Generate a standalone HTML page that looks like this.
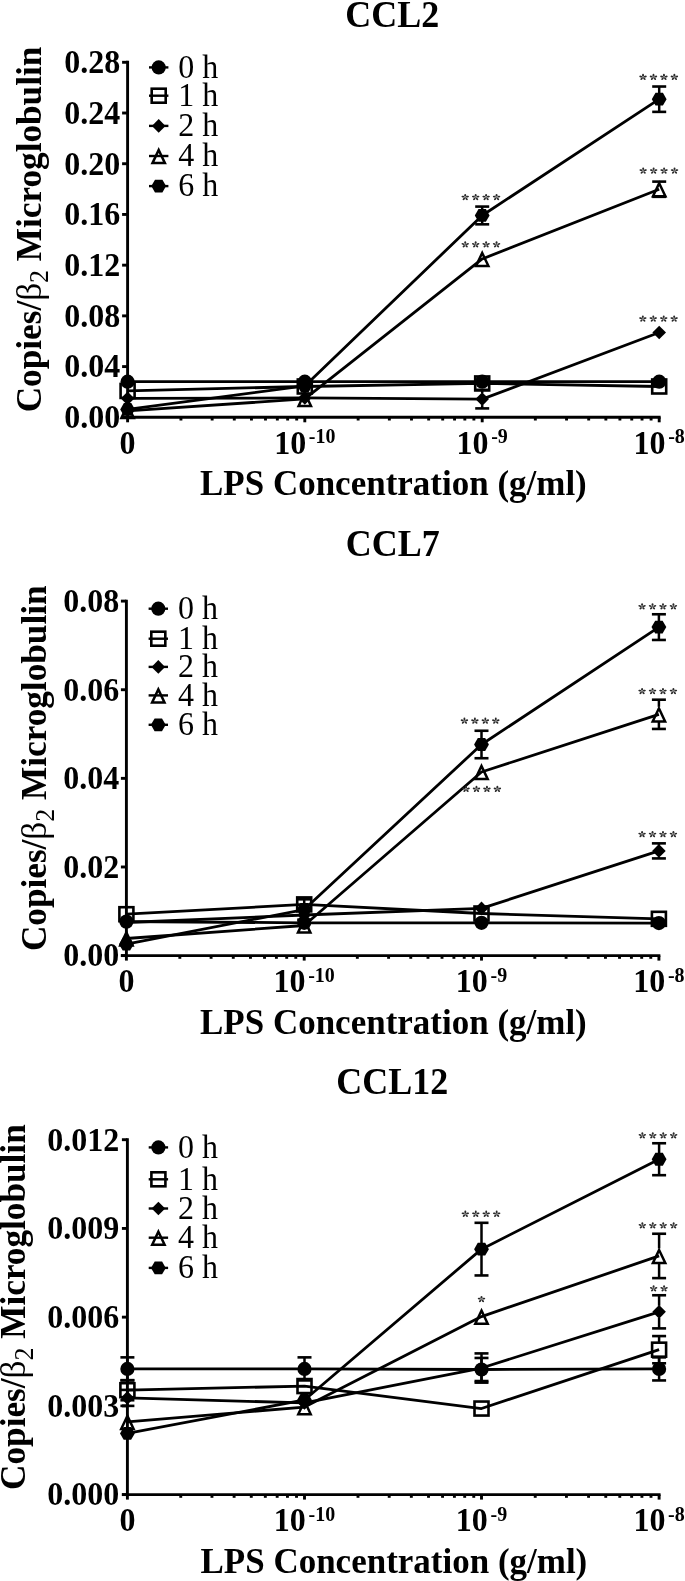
<!DOCTYPE html>
<html><head><meta charset="utf-8"><title>CCL chemokine expression</title>
<style>html,body{margin:0;padding:0;background:#fff;}svg{display:block;filter:grayscale(1);}</style></head>
<body>
<svg width="685" height="1581" viewBox="0 0 685 1581">
<rect width="685" height="1581" fill="#fff"/>
<g>
<text transform="translate(392.30,26.70) scale(1,1.045)" font-family="'Liberation Serif', serif" font-weight="bold" font-size="36" text-anchor="middle">CCL2</text>
<text transform="translate(40.70,412.30) rotate(-90) scale(1,1.02)" font-family="'Liberation Serif', serif" font-weight="bold" font-size="35.2">Copies/<tspan font-weight="normal">β</tspan><tspan font-weight="normal" font-size="26" dy="7.4">2</tspan><tspan dy="-7.4"> Microglobulin</tspan></text>
<line x1="127.6" y1="60.85" x2="127.6" y2="418.75" stroke="#000" stroke-width="2.9"/>
<line x1="122.10" y1="417.3" x2="660.65" y2="417.3" stroke="#000" stroke-width="2.9"/>
<line x1="122.10" y1="62.30" x2="127.6" y2="62.30" stroke="#000" stroke-width="2.9"/>
<text transform="translate(120.20,73.10) scale(1,1.045)" font-family="'Liberation Serif', serif" font-weight="bold" font-size="32" text-anchor="end">0.28</text>
<line x1="122.10" y1="113.01" x2="127.6" y2="113.01" stroke="#000" stroke-width="2.9"/>
<text transform="translate(120.20,123.81) scale(1,1.045)" font-family="'Liberation Serif', serif" font-weight="bold" font-size="32" text-anchor="end">0.24</text>
<line x1="122.10" y1="163.73" x2="127.6" y2="163.73" stroke="#000" stroke-width="2.9"/>
<text transform="translate(120.20,174.53) scale(1,1.045)" font-family="'Liberation Serif', serif" font-weight="bold" font-size="32" text-anchor="end">0.20</text>
<line x1="122.10" y1="214.44" x2="127.6" y2="214.44" stroke="#000" stroke-width="2.9"/>
<text transform="translate(120.20,225.24) scale(1,1.045)" font-family="'Liberation Serif', serif" font-weight="bold" font-size="32" text-anchor="end">0.16</text>
<line x1="122.10" y1="265.16" x2="127.6" y2="265.16" stroke="#000" stroke-width="2.9"/>
<text transform="translate(120.20,275.96) scale(1,1.045)" font-family="'Liberation Serif', serif" font-weight="bold" font-size="32" text-anchor="end">0.12</text>
<line x1="122.10" y1="315.87" x2="127.6" y2="315.87" stroke="#000" stroke-width="2.9"/>
<text transform="translate(120.20,326.67) scale(1,1.045)" font-family="'Liberation Serif', serif" font-weight="bold" font-size="32" text-anchor="end">0.08</text>
<line x1="122.10" y1="366.59" x2="127.6" y2="366.59" stroke="#000" stroke-width="2.9"/>
<text transform="translate(120.20,377.39) scale(1,1.045)" font-family="'Liberation Serif', serif" font-weight="bold" font-size="32" text-anchor="end">0.04</text>
<line x1="122.10" y1="417.30" x2="127.6" y2="417.30" stroke="#000" stroke-width="2.9"/>
<text transform="translate(120.20,428.10) scale(1,1.045)" font-family="'Liberation Serif', serif" font-weight="bold" font-size="32" text-anchor="end">0.00</text>
<line x1="180.94" y1="417.3" x2="180.94" y2="420.50" stroke="#000" stroke-width="2.9"/>
<line x1="212.15" y1="417.3" x2="212.15" y2="420.50" stroke="#000" stroke-width="2.9"/>
<line x1="234.29" y1="417.3" x2="234.29" y2="420.50" stroke="#000" stroke-width="2.9"/>
<line x1="251.46" y1="417.3" x2="251.46" y2="420.50" stroke="#000" stroke-width="2.9"/>
<line x1="265.49" y1="417.3" x2="265.49" y2="420.50" stroke="#000" stroke-width="2.9"/>
<line x1="277.35" y1="417.3" x2="277.35" y2="420.50" stroke="#000" stroke-width="2.9"/>
<line x1="287.63" y1="417.3" x2="287.63" y2="420.50" stroke="#000" stroke-width="2.9"/>
<line x1="296.69" y1="417.3" x2="296.69" y2="420.50" stroke="#000" stroke-width="2.9"/>
<line x1="358.14" y1="417.3" x2="358.14" y2="420.50" stroke="#000" stroke-width="2.9"/>
<line x1="389.35" y1="417.3" x2="389.35" y2="420.50" stroke="#000" stroke-width="2.9"/>
<line x1="411.49" y1="417.3" x2="411.49" y2="420.50" stroke="#000" stroke-width="2.9"/>
<line x1="428.66" y1="417.3" x2="428.66" y2="420.50" stroke="#000" stroke-width="2.9"/>
<line x1="442.69" y1="417.3" x2="442.69" y2="420.50" stroke="#000" stroke-width="2.9"/>
<line x1="454.55" y1="417.3" x2="454.55" y2="420.50" stroke="#000" stroke-width="2.9"/>
<line x1="464.83" y1="417.3" x2="464.83" y2="420.50" stroke="#000" stroke-width="2.9"/>
<line x1="473.89" y1="417.3" x2="473.89" y2="420.50" stroke="#000" stroke-width="2.9"/>
<line x1="535.34" y1="417.3" x2="535.34" y2="420.50" stroke="#000" stroke-width="2.9"/>
<line x1="566.55" y1="417.3" x2="566.55" y2="420.50" stroke="#000" stroke-width="2.9"/>
<line x1="588.69" y1="417.3" x2="588.69" y2="420.50" stroke="#000" stroke-width="2.9"/>
<line x1="605.86" y1="417.3" x2="605.86" y2="420.50" stroke="#000" stroke-width="2.9"/>
<line x1="619.89" y1="417.3" x2="619.89" y2="420.50" stroke="#000" stroke-width="2.9"/>
<line x1="631.75" y1="417.3" x2="631.75" y2="420.50" stroke="#000" stroke-width="2.9"/>
<line x1="642.03" y1="417.3" x2="642.03" y2="420.50" stroke="#000" stroke-width="2.9"/>
<line x1="651.09" y1="417.3" x2="651.09" y2="420.50" stroke="#000" stroke-width="2.9"/>
<line x1="127.60" y1="417.3" x2="127.60" y2="422.30" stroke="#000" stroke-width="2.9"/>
<line x1="304.80" y1="417.3" x2="304.80" y2="422.30" stroke="#000" stroke-width="2.9"/>
<line x1="482.20" y1="417.3" x2="482.20" y2="422.30" stroke="#000" stroke-width="2.9"/>
<line x1="659.20" y1="417.3" x2="659.20" y2="422.30" stroke="#000" stroke-width="2.9"/>
<text transform="translate(127.60,453.90) scale(1,1.045)" font-family="'Liberation Serif', serif" font-weight="bold" font-size="32" text-anchor="middle">0</text>
<text transform="translate(304.80,453.90) scale(1,1.045)" font-family="'Liberation Serif', serif" font-weight="bold" font-size="32" text-anchor="middle">10<tspan dx="2.7" dy="-10.1" font-size="20">-10</tspan></text>
<text transform="translate(482.20,453.90) scale(1,1.045)" font-family="'Liberation Serif', serif" font-weight="bold" font-size="32" text-anchor="middle">10<tspan dx="2.7" dy="-10.1" font-size="20">-9</tspan></text>
<text transform="translate(659.20,453.90) scale(1,1.045)" font-family="'Liberation Serif', serif" font-weight="bold" font-size="32" text-anchor="middle">10<tspan dx="2.7" dy="-10.1" font-size="20">-8</tspan></text>
<text transform="translate(200.00,495.30) scale(1,1.045)" font-family="'Liberation Serif', serif" font-weight="bold" font-size="35">LPS Concentration (g/ml)</text>
<line x1="149.00" y1="67.40" x2="168.40" y2="67.40" stroke="#000" stroke-width="2.4"/>
<circle cx="158.70" cy="67.40" r="7.1" fill="#000"/>
<text transform="translate(178.30,77.70) scale(1,1.045)" font-family="'Liberation Serif', serif" font-size="32">0 h</text>
<line x1="149.00" y1="95.70" x2="168.40" y2="95.70" stroke="#000" stroke-width="2.4"/>
<rect x="151.70" y="88.70" width="14.00" height="14.00" fill="none" stroke="#000" stroke-width="2.6"/>
<text transform="translate(178.30,106.00) scale(1,1.045)" font-family="'Liberation Serif', serif" font-size="32">1 h</text>
<line x1="149.00" y1="125.90" x2="168.40" y2="125.90" stroke="#000" stroke-width="2.4"/>
<path d="M158.70,119.10 L165.50,125.90 L158.70,132.70 L151.90,125.90 Z" fill="#000"/>
<text transform="translate(178.30,136.20) scale(1,1.045)" font-family="'Liberation Serif', serif" font-size="32">2 h</text>
<line x1="149.00" y1="156.00" x2="168.40" y2="156.00" stroke="#000" stroke-width="2.4"/>
<path d="M158.70,150.00 L164.90,163.10 L152.50,163.10 Z" fill="none" stroke="#000" stroke-width="2.5" stroke-linejoin="miter" stroke-miterlimit="10"/>
<text transform="translate(178.30,166.30) scale(1,1.045)" font-family="'Liberation Serif', serif" font-size="32">4 h</text>
<line x1="149.00" y1="186.10" x2="168.40" y2="186.10" stroke="#000" stroke-width="2.4"/>
<path d="M151.30,186.10 L155.00,179.69 L162.40,179.69 L166.10,186.10 L162.40,192.51 L155.00,192.51 Z" fill="#000"/>
<text transform="translate(178.30,196.40) scale(1,1.045)" font-family="'Liberation Serif', serif" font-size="32">6 h</text>
<polyline points="127.60,381.67 304.80,381.67 482.20,381.67 659.20,381.67" fill="none" stroke="#000" stroke-width="2.8" stroke-linejoin="round"/>
<polyline points="127.60,390.93 304.80,386.49 482.20,383.45 659.20,386.49" fill="none" stroke="#000" stroke-width="2.8" stroke-linejoin="round"/>
<polyline points="127.60,398.41 304.80,397.90 482.20,399.11 659.20,332.48" fill="none" stroke="#000" stroke-width="2.8" stroke-linejoin="round"/>
<polyline points="127.60,410.96 304.80,398.92 482.20,258.94 659.20,189.21" fill="none" stroke="#000" stroke-width="2.8" stroke-linejoin="round"/>
<polyline points="127.60,409.44 304.80,385.98 482.20,215.46 659.20,99.19" fill="none" stroke="#000" stroke-width="2.8" stroke-linejoin="round"/>
<line x1="482.20" y1="389.81" x2="482.20" y2="393.11" stroke="#000" stroke-width="2.5"/>
<line x1="482.20" y1="405.11" x2="482.20" y2="408.40" stroke="#000" stroke-width="2.5"/>
<line x1="475.20" y1="389.81" x2="489.20" y2="389.81" stroke="#000" stroke-width="2.6"/>
<line x1="475.20" y1="408.40" x2="489.20" y2="408.40" stroke="#000" stroke-width="2.6"/>
<line x1="659.20" y1="181.61" x2="659.20" y2="181.71" stroke="#000" stroke-width="2.5"/>
<line x1="659.20" y1="196.31" x2="659.20" y2="196.82" stroke="#000" stroke-width="2.5"/>
<line x1="652.20" y1="181.61" x2="666.20" y2="181.61" stroke="#000" stroke-width="2.6"/>
<line x1="652.20" y1="196.82" x2="666.20" y2="196.82" stroke="#000" stroke-width="2.6"/>
<line x1="482.20" y1="206.58" x2="482.20" y2="209.96" stroke="#000" stroke-width="2.5"/>
<line x1="482.20" y1="220.96" x2="482.20" y2="224.33" stroke="#000" stroke-width="2.5"/>
<line x1="475.20" y1="206.58" x2="489.20" y2="206.58" stroke="#000" stroke-width="2.6"/>
<line x1="475.20" y1="224.33" x2="489.20" y2="224.33" stroke="#000" stroke-width="2.6"/>
<line x1="659.20" y1="86.52" x2="659.20" y2="93.69" stroke="#000" stroke-width="2.5"/>
<line x1="659.20" y1="104.69" x2="659.20" y2="111.87" stroke="#000" stroke-width="2.5"/>
<line x1="652.20" y1="86.52" x2="666.20" y2="86.52" stroke="#000" stroke-width="2.6"/>
<line x1="652.20" y1="111.87" x2="666.20" y2="111.87" stroke="#000" stroke-width="2.6"/>
<path d="M120.20,409.44 L123.90,403.03 L131.30,403.03 L135.00,409.44 L131.30,415.85 L123.90,415.85 Z" fill="#000"/>
<path d="M297.40,385.98 L301.10,379.58 L308.50,379.58 L312.20,385.98 L308.50,392.39 L301.10,392.39 Z" fill="#000"/>
<path d="M474.80,215.46 L478.50,209.05 L485.90,209.05 L489.60,215.46 L485.90,221.87 L478.50,221.87 Z" fill="#000"/>
<path d="M651.80,99.19 L655.50,92.79 L662.90,92.79 L666.60,99.19 L662.90,105.60 L655.50,105.60 Z" fill="#000"/>
<path d="M127.60,404.96 L133.80,418.06 L121.40,418.06 Z" fill="none" stroke="#000" stroke-width="2.5" stroke-linejoin="miter" stroke-miterlimit="10"/>
<path d="M304.80,392.92 L311.00,406.02 L298.60,406.02 Z" fill="none" stroke="#000" stroke-width="2.5" stroke-linejoin="miter" stroke-miterlimit="10"/>
<path d="M482.20,252.94 L488.40,266.04 L476.00,266.04 Z" fill="none" stroke="#000" stroke-width="2.5" stroke-linejoin="miter" stroke-miterlimit="10"/>
<path d="M659.20,183.21 L665.40,196.31 L653.00,196.31 Z" fill="none" stroke="#000" stroke-width="2.5" stroke-linejoin="miter" stroke-miterlimit="10"/>
<path d="M127.60,391.61 L134.40,398.41 L127.60,405.21 L120.80,398.41 Z" fill="#000"/>
<path d="M304.80,391.10 L311.60,397.90 L304.80,404.70 L298.00,397.90 Z" fill="#000"/>
<path d="M482.20,392.31 L489.00,399.11 L482.20,405.91 L475.40,399.11 Z" fill="#000"/>
<path d="M659.20,325.68 L666.00,332.48 L659.20,339.28 L652.40,332.48 Z" fill="#000"/>
<rect x="120.60" y="383.93" width="14.00" height="14.00" fill="none" stroke="#000" stroke-width="2.6"/>
<rect x="297.80" y="379.49" width="14.00" height="14.00" fill="none" stroke="#000" stroke-width="2.6"/>
<rect x="475.20" y="376.45" width="14.00" height="14.00" fill="none" stroke="#000" stroke-width="2.6"/>
<rect x="652.20" y="379.49" width="14.00" height="14.00" fill="none" stroke="#000" stroke-width="2.6"/>
<circle cx="127.60" cy="381.67" r="7.1" fill="#000"/>
<circle cx="304.80" cy="381.67" r="7.1" fill="#000"/>
<circle cx="482.20" cy="381.67" r="7.1" fill="#000"/>
<circle cx="659.20" cy="381.67" r="7.1" fill="#000"/>
<g fill="#2a2a2a" transform="translate(465.22,197.30) scale(1.15,1) translate(-465.22,-197.30)"><ellipse cx="465.22" cy="195.25" rx="1.35" ry="0.85" transform="rotate(-90 465.22 195.25)"/><ellipse cx="467.17" cy="196.67" rx="1.35" ry="0.85" transform="rotate(-18 467.17 196.67)"/><ellipse cx="466.43" cy="198.96" rx="1.35" ry="0.85" transform="rotate(54 466.43 198.96)"/><ellipse cx="464.02" cy="198.96" rx="1.35" ry="0.85" transform="rotate(126 464.02 198.96)"/><ellipse cx="463.28" cy="196.67" rx="1.35" ry="0.85" transform="rotate(198 463.28 196.67)"/><circle cx="465.22" cy="197.30" r="0.9" fill="#666"/></g>
<g fill="#2a2a2a" transform="translate(475.67,197.30) scale(1.15,1) translate(-475.67,-197.30)"><ellipse cx="475.67" cy="195.25" rx="1.35" ry="0.85" transform="rotate(-90 475.67 195.25)"/><ellipse cx="477.62" cy="196.67" rx="1.35" ry="0.85" transform="rotate(-18 477.62 196.67)"/><ellipse cx="476.88" cy="198.96" rx="1.35" ry="0.85" transform="rotate(54 476.88 198.96)"/><ellipse cx="474.47" cy="198.96" rx="1.35" ry="0.85" transform="rotate(126 474.47 198.96)"/><ellipse cx="473.73" cy="196.67" rx="1.35" ry="0.85" transform="rotate(198 473.73 196.67)"/><circle cx="475.67" cy="197.30" r="0.9" fill="#666"/></g>
<g fill="#2a2a2a" transform="translate(486.12,197.30) scale(1.15,1) translate(-486.12,-197.30)"><ellipse cx="486.12" cy="195.25" rx="1.35" ry="0.85" transform="rotate(-90 486.12 195.25)"/><ellipse cx="488.07" cy="196.67" rx="1.35" ry="0.85" transform="rotate(-18 488.07 196.67)"/><ellipse cx="487.33" cy="198.96" rx="1.35" ry="0.85" transform="rotate(54 487.33 198.96)"/><ellipse cx="484.92" cy="198.96" rx="1.35" ry="0.85" transform="rotate(126 484.92 198.96)"/><ellipse cx="484.18" cy="196.67" rx="1.35" ry="0.85" transform="rotate(198 484.18 196.67)"/><circle cx="486.12" cy="197.30" r="0.9" fill="#666"/></g>
<g fill="#2a2a2a" transform="translate(496.57,197.30) scale(1.15,1) translate(-496.57,-197.30)"><ellipse cx="496.57" cy="195.25" rx="1.35" ry="0.85" transform="rotate(-90 496.57 195.25)"/><ellipse cx="498.52" cy="196.67" rx="1.35" ry="0.85" transform="rotate(-18 498.52 196.67)"/><ellipse cx="497.78" cy="198.96" rx="1.35" ry="0.85" transform="rotate(54 497.78 198.96)"/><ellipse cx="495.37" cy="198.96" rx="1.35" ry="0.85" transform="rotate(126 495.37 198.96)"/><ellipse cx="494.63" cy="196.67" rx="1.35" ry="0.85" transform="rotate(198 494.63 196.67)"/><circle cx="496.57" cy="197.30" r="0.9" fill="#666"/></g>
<g fill="#2a2a2a" transform="translate(643.03,77.20) scale(1.15,1) translate(-643.03,-77.20)"><ellipse cx="643.03" cy="75.15" rx="1.35" ry="0.85" transform="rotate(-90 643.03 75.15)"/><ellipse cx="644.97" cy="76.57" rx="1.35" ry="0.85" transform="rotate(-18 644.97 76.57)"/><ellipse cx="644.23" cy="78.86" rx="1.35" ry="0.85" transform="rotate(54 644.23 78.86)"/><ellipse cx="641.82" cy="78.86" rx="1.35" ry="0.85" transform="rotate(126 641.82 78.86)"/><ellipse cx="641.08" cy="76.57" rx="1.35" ry="0.85" transform="rotate(198 641.08 76.57)"/><circle cx="643.03" cy="77.20" r="0.9" fill="#666"/></g>
<g fill="#2a2a2a" transform="translate(653.48,77.20) scale(1.15,1) translate(-653.48,-77.20)"><ellipse cx="653.48" cy="75.15" rx="1.35" ry="0.85" transform="rotate(-90 653.48 75.15)"/><ellipse cx="655.42" cy="76.57" rx="1.35" ry="0.85" transform="rotate(-18 655.42 76.57)"/><ellipse cx="654.68" cy="78.86" rx="1.35" ry="0.85" transform="rotate(54 654.68 78.86)"/><ellipse cx="652.27" cy="78.86" rx="1.35" ry="0.85" transform="rotate(126 652.27 78.86)"/><ellipse cx="651.53" cy="76.57" rx="1.35" ry="0.85" transform="rotate(198 651.53 76.57)"/><circle cx="653.48" cy="77.20" r="0.9" fill="#666"/></g>
<g fill="#2a2a2a" transform="translate(663.93,77.20) scale(1.15,1) translate(-663.93,-77.20)"><ellipse cx="663.93" cy="75.15" rx="1.35" ry="0.85" transform="rotate(-90 663.93 75.15)"/><ellipse cx="665.87" cy="76.57" rx="1.35" ry="0.85" transform="rotate(-18 665.87 76.57)"/><ellipse cx="665.13" cy="78.86" rx="1.35" ry="0.85" transform="rotate(54 665.13 78.86)"/><ellipse cx="662.72" cy="78.86" rx="1.35" ry="0.85" transform="rotate(126 662.72 78.86)"/><ellipse cx="661.98" cy="76.57" rx="1.35" ry="0.85" transform="rotate(198 661.98 76.57)"/><circle cx="663.93" cy="77.20" r="0.9" fill="#666"/></g>
<g fill="#2a2a2a" transform="translate(674.38,77.20) scale(1.15,1) translate(-674.38,-77.20)"><ellipse cx="674.38" cy="75.15" rx="1.35" ry="0.85" transform="rotate(-90 674.38 75.15)"/><ellipse cx="676.32" cy="76.57" rx="1.35" ry="0.85" transform="rotate(-18 676.32 76.57)"/><ellipse cx="675.58" cy="78.86" rx="1.35" ry="0.85" transform="rotate(54 675.58 78.86)"/><ellipse cx="673.17" cy="78.86" rx="1.35" ry="0.85" transform="rotate(126 673.17 78.86)"/><ellipse cx="672.43" cy="76.57" rx="1.35" ry="0.85" transform="rotate(198 672.43 76.57)"/><circle cx="674.38" cy="77.20" r="0.9" fill="#666"/></g>
<g fill="#2a2a2a" transform="translate(465.22,244.60) scale(1.15,1) translate(-465.22,-244.60)"><ellipse cx="465.22" cy="242.55" rx="1.35" ry="0.85" transform="rotate(-90 465.22 242.55)"/><ellipse cx="467.17" cy="243.97" rx="1.35" ry="0.85" transform="rotate(-18 467.17 243.97)"/><ellipse cx="466.43" cy="246.26" rx="1.35" ry="0.85" transform="rotate(54 466.43 246.26)"/><ellipse cx="464.02" cy="246.26" rx="1.35" ry="0.85" transform="rotate(126 464.02 246.26)"/><ellipse cx="463.28" cy="243.97" rx="1.35" ry="0.85" transform="rotate(198 463.28 243.97)"/><circle cx="465.22" cy="244.60" r="0.9" fill="#666"/></g>
<g fill="#2a2a2a" transform="translate(475.67,244.60) scale(1.15,1) translate(-475.67,-244.60)"><ellipse cx="475.67" cy="242.55" rx="1.35" ry="0.85" transform="rotate(-90 475.67 242.55)"/><ellipse cx="477.62" cy="243.97" rx="1.35" ry="0.85" transform="rotate(-18 477.62 243.97)"/><ellipse cx="476.88" cy="246.26" rx="1.35" ry="0.85" transform="rotate(54 476.88 246.26)"/><ellipse cx="474.47" cy="246.26" rx="1.35" ry="0.85" transform="rotate(126 474.47 246.26)"/><ellipse cx="473.73" cy="243.97" rx="1.35" ry="0.85" transform="rotate(198 473.73 243.97)"/><circle cx="475.67" cy="244.60" r="0.9" fill="#666"/></g>
<g fill="#2a2a2a" transform="translate(486.12,244.60) scale(1.15,1) translate(-486.12,-244.60)"><ellipse cx="486.12" cy="242.55" rx="1.35" ry="0.85" transform="rotate(-90 486.12 242.55)"/><ellipse cx="488.07" cy="243.97" rx="1.35" ry="0.85" transform="rotate(-18 488.07 243.97)"/><ellipse cx="487.33" cy="246.26" rx="1.35" ry="0.85" transform="rotate(54 487.33 246.26)"/><ellipse cx="484.92" cy="246.26" rx="1.35" ry="0.85" transform="rotate(126 484.92 246.26)"/><ellipse cx="484.18" cy="243.97" rx="1.35" ry="0.85" transform="rotate(198 484.18 243.97)"/><circle cx="486.12" cy="244.60" r="0.9" fill="#666"/></g>
<g fill="#2a2a2a" transform="translate(496.57,244.60) scale(1.15,1) translate(-496.57,-244.60)"><ellipse cx="496.57" cy="242.55" rx="1.35" ry="0.85" transform="rotate(-90 496.57 242.55)"/><ellipse cx="498.52" cy="243.97" rx="1.35" ry="0.85" transform="rotate(-18 498.52 243.97)"/><ellipse cx="497.78" cy="246.26" rx="1.35" ry="0.85" transform="rotate(54 497.78 246.26)"/><ellipse cx="495.37" cy="246.26" rx="1.35" ry="0.85" transform="rotate(126 495.37 246.26)"/><ellipse cx="494.63" cy="243.97" rx="1.35" ry="0.85" transform="rotate(198 494.63 243.97)"/><circle cx="496.57" cy="244.60" r="0.9" fill="#666"/></g>
<g fill="#2a2a2a" transform="translate(643.18,170.80) scale(1.15,1) translate(-643.18,-170.80)"><ellipse cx="643.18" cy="168.75" rx="1.35" ry="0.85" transform="rotate(-90 643.18 168.75)"/><ellipse cx="645.12" cy="170.17" rx="1.35" ry="0.85" transform="rotate(-18 645.12 170.17)"/><ellipse cx="644.38" cy="172.46" rx="1.35" ry="0.85" transform="rotate(54 644.38 172.46)"/><ellipse cx="641.97" cy="172.46" rx="1.35" ry="0.85" transform="rotate(126 641.97 172.46)"/><ellipse cx="641.23" cy="170.17" rx="1.35" ry="0.85" transform="rotate(198 641.23 170.17)"/><circle cx="643.18" cy="170.80" r="0.9" fill="#666"/></g>
<g fill="#2a2a2a" transform="translate(653.62,170.80) scale(1.15,1) translate(-653.62,-170.80)"><ellipse cx="653.62" cy="168.75" rx="1.35" ry="0.85" transform="rotate(-90 653.62 168.75)"/><ellipse cx="655.57" cy="170.17" rx="1.35" ry="0.85" transform="rotate(-18 655.57 170.17)"/><ellipse cx="654.83" cy="172.46" rx="1.35" ry="0.85" transform="rotate(54 654.83 172.46)"/><ellipse cx="652.42" cy="172.46" rx="1.35" ry="0.85" transform="rotate(126 652.42 172.46)"/><ellipse cx="651.68" cy="170.17" rx="1.35" ry="0.85" transform="rotate(198 651.68 170.17)"/><circle cx="653.62" cy="170.80" r="0.9" fill="#666"/></g>
<g fill="#2a2a2a" transform="translate(664.08,170.80) scale(1.15,1) translate(-664.08,-170.80)"><ellipse cx="664.08" cy="168.75" rx="1.35" ry="0.85" transform="rotate(-90 664.08 168.75)"/><ellipse cx="666.02" cy="170.17" rx="1.35" ry="0.85" transform="rotate(-18 666.02 170.17)"/><ellipse cx="665.28" cy="172.46" rx="1.35" ry="0.85" transform="rotate(54 665.28 172.46)"/><ellipse cx="662.87" cy="172.46" rx="1.35" ry="0.85" transform="rotate(126 662.87 172.46)"/><ellipse cx="662.13" cy="170.17" rx="1.35" ry="0.85" transform="rotate(198 662.13 170.17)"/><circle cx="664.08" cy="170.80" r="0.9" fill="#666"/></g>
<g fill="#2a2a2a" transform="translate(674.52,170.80) scale(1.15,1) translate(-674.52,-170.80)"><ellipse cx="674.52" cy="168.75" rx="1.35" ry="0.85" transform="rotate(-90 674.52 168.75)"/><ellipse cx="676.47" cy="170.17" rx="1.35" ry="0.85" transform="rotate(-18 676.47 170.17)"/><ellipse cx="675.73" cy="172.46" rx="1.35" ry="0.85" transform="rotate(54 675.73 172.46)"/><ellipse cx="673.32" cy="172.46" rx="1.35" ry="0.85" transform="rotate(126 673.32 172.46)"/><ellipse cx="672.58" cy="170.17" rx="1.35" ry="0.85" transform="rotate(198 672.58 170.17)"/><circle cx="674.52" cy="170.80" r="0.9" fill="#666"/></g>
<g fill="#2a2a2a" transform="translate(642.83,318.80) scale(1.15,1) translate(-642.83,-318.80)"><ellipse cx="642.83" cy="316.75" rx="1.35" ry="0.85" transform="rotate(-90 642.83 316.75)"/><ellipse cx="644.77" cy="318.17" rx="1.35" ry="0.85" transform="rotate(-18 644.77 318.17)"/><ellipse cx="644.03" cy="320.46" rx="1.35" ry="0.85" transform="rotate(54 644.03 320.46)"/><ellipse cx="641.62" cy="320.46" rx="1.35" ry="0.85" transform="rotate(126 641.62 320.46)"/><ellipse cx="640.88" cy="318.17" rx="1.35" ry="0.85" transform="rotate(198 640.88 318.17)"/><circle cx="642.83" cy="318.80" r="0.9" fill="#666"/></g>
<g fill="#2a2a2a" transform="translate(653.27,318.80) scale(1.15,1) translate(-653.27,-318.80)"><ellipse cx="653.27" cy="316.75" rx="1.35" ry="0.85" transform="rotate(-90 653.27 316.75)"/><ellipse cx="655.22" cy="318.17" rx="1.35" ry="0.85" transform="rotate(-18 655.22 318.17)"/><ellipse cx="654.48" cy="320.46" rx="1.35" ry="0.85" transform="rotate(54 654.48 320.46)"/><ellipse cx="652.07" cy="320.46" rx="1.35" ry="0.85" transform="rotate(126 652.07 320.46)"/><ellipse cx="651.33" cy="318.17" rx="1.35" ry="0.85" transform="rotate(198 651.33 318.17)"/><circle cx="653.27" cy="318.80" r="0.9" fill="#666"/></g>
<g fill="#2a2a2a" transform="translate(663.73,318.80) scale(1.15,1) translate(-663.73,-318.80)"><ellipse cx="663.73" cy="316.75" rx="1.35" ry="0.85" transform="rotate(-90 663.73 316.75)"/><ellipse cx="665.67" cy="318.17" rx="1.35" ry="0.85" transform="rotate(-18 665.67 318.17)"/><ellipse cx="664.93" cy="320.46" rx="1.35" ry="0.85" transform="rotate(54 664.93 320.46)"/><ellipse cx="662.52" cy="320.46" rx="1.35" ry="0.85" transform="rotate(126 662.52 320.46)"/><ellipse cx="661.78" cy="318.17" rx="1.35" ry="0.85" transform="rotate(198 661.78 318.17)"/><circle cx="663.73" cy="318.80" r="0.9" fill="#666"/></g>
<g fill="#2a2a2a" transform="translate(674.17,318.80) scale(1.15,1) translate(-674.17,-318.80)"><ellipse cx="674.17" cy="316.75" rx="1.35" ry="0.85" transform="rotate(-90 674.17 316.75)"/><ellipse cx="676.12" cy="318.17" rx="1.35" ry="0.85" transform="rotate(-18 676.12 318.17)"/><ellipse cx="675.38" cy="320.46" rx="1.35" ry="0.85" transform="rotate(54 675.38 320.46)"/><ellipse cx="672.97" cy="320.46" rx="1.35" ry="0.85" transform="rotate(126 672.97 320.46)"/><ellipse cx="672.23" cy="318.17" rx="1.35" ry="0.85" transform="rotate(198 672.23 318.17)"/><circle cx="674.17" cy="318.80" r="0.9" fill="#666"/></g>
<text transform="translate(392.80,556.00) scale(1,1.045)" font-family="'Liberation Serif', serif" font-weight="bold" font-size="36" text-anchor="middle">CCL7</text>
<text transform="translate(46.00,951.10) rotate(-90) scale(1,1.02)" font-family="'Liberation Serif', serif" font-weight="bold" font-size="35.2">Copies/<tspan font-weight="normal">β</tspan><tspan font-weight="normal" font-size="26" dy="7.4">2</tspan><tspan dy="-7.4"> Microglobulin</tspan></text>
<line x1="126.4" y1="599.65" x2="126.4" y2="957.05" stroke="#000" stroke-width="2.9"/>
<line x1="120.90" y1="955.6" x2="660.35" y2="955.6" stroke="#000" stroke-width="2.9"/>
<line x1="120.90" y1="601.10" x2="126.4" y2="601.10" stroke="#000" stroke-width="2.9"/>
<text transform="translate(119.20,611.90) scale(1,1.045)" font-family="'Liberation Serif', serif" font-weight="bold" font-size="32" text-anchor="end">0.08</text>
<line x1="120.90" y1="689.73" x2="126.4" y2="689.73" stroke="#000" stroke-width="2.9"/>
<text transform="translate(119.20,700.52) scale(1,1.045)" font-family="'Liberation Serif', serif" font-weight="bold" font-size="32" text-anchor="end">0.06</text>
<line x1="120.90" y1="778.35" x2="126.4" y2="778.35" stroke="#000" stroke-width="2.9"/>
<text transform="translate(119.20,789.15) scale(1,1.045)" font-family="'Liberation Serif', serif" font-weight="bold" font-size="32" text-anchor="end">0.04</text>
<line x1="120.90" y1="866.98" x2="126.4" y2="866.98" stroke="#000" stroke-width="2.9"/>
<text transform="translate(119.20,877.77) scale(1,1.045)" font-family="'Liberation Serif', serif" font-weight="bold" font-size="32" text-anchor="end">0.02</text>
<line x1="120.90" y1="955.60" x2="126.4" y2="955.60" stroke="#000" stroke-width="2.9"/>
<text transform="translate(119.20,966.40) scale(1,1.045)" font-family="'Liberation Serif', serif" font-weight="bold" font-size="32" text-anchor="end">0.00</text>
<line x1="179.83" y1="955.6" x2="179.83" y2="958.80" stroke="#000" stroke-width="2.9"/>
<line x1="211.09" y1="955.6" x2="211.09" y2="958.80" stroke="#000" stroke-width="2.9"/>
<line x1="233.27" y1="955.6" x2="233.27" y2="958.80" stroke="#000" stroke-width="2.9"/>
<line x1="250.47" y1="955.6" x2="250.47" y2="958.80" stroke="#000" stroke-width="2.9"/>
<line x1="264.52" y1="955.6" x2="264.52" y2="958.80" stroke="#000" stroke-width="2.9"/>
<line x1="276.40" y1="955.6" x2="276.40" y2="958.80" stroke="#000" stroke-width="2.9"/>
<line x1="286.70" y1="955.6" x2="286.70" y2="958.80" stroke="#000" stroke-width="2.9"/>
<line x1="295.78" y1="955.6" x2="295.78" y2="958.80" stroke="#000" stroke-width="2.9"/>
<line x1="357.33" y1="955.6" x2="357.33" y2="958.80" stroke="#000" stroke-width="2.9"/>
<line x1="388.59" y1="955.6" x2="388.59" y2="958.80" stroke="#000" stroke-width="2.9"/>
<line x1="410.77" y1="955.6" x2="410.77" y2="958.80" stroke="#000" stroke-width="2.9"/>
<line x1="427.97" y1="955.6" x2="427.97" y2="958.80" stroke="#000" stroke-width="2.9"/>
<line x1="442.02" y1="955.6" x2="442.02" y2="958.80" stroke="#000" stroke-width="2.9"/>
<line x1="453.90" y1="955.6" x2="453.90" y2="958.80" stroke="#000" stroke-width="2.9"/>
<line x1="464.20" y1="955.6" x2="464.20" y2="958.80" stroke="#000" stroke-width="2.9"/>
<line x1="473.28" y1="955.6" x2="473.28" y2="958.80" stroke="#000" stroke-width="2.9"/>
<line x1="534.83" y1="955.6" x2="534.83" y2="958.80" stroke="#000" stroke-width="2.9"/>
<line x1="566.09" y1="955.6" x2="566.09" y2="958.80" stroke="#000" stroke-width="2.9"/>
<line x1="588.27" y1="955.6" x2="588.27" y2="958.80" stroke="#000" stroke-width="2.9"/>
<line x1="605.47" y1="955.6" x2="605.47" y2="958.80" stroke="#000" stroke-width="2.9"/>
<line x1="619.52" y1="955.6" x2="619.52" y2="958.80" stroke="#000" stroke-width="2.9"/>
<line x1="631.40" y1="955.6" x2="631.40" y2="958.80" stroke="#000" stroke-width="2.9"/>
<line x1="641.70" y1="955.6" x2="641.70" y2="958.80" stroke="#000" stroke-width="2.9"/>
<line x1="650.78" y1="955.6" x2="650.78" y2="958.80" stroke="#000" stroke-width="2.9"/>
<line x1="126.40" y1="955.6" x2="126.40" y2="960.60" stroke="#000" stroke-width="2.9"/>
<line x1="304.20" y1="955.6" x2="304.20" y2="960.60" stroke="#000" stroke-width="2.9"/>
<line x1="481.50" y1="955.6" x2="481.50" y2="960.60" stroke="#000" stroke-width="2.9"/>
<line x1="658.90" y1="955.6" x2="658.90" y2="960.60" stroke="#000" stroke-width="2.9"/>
<text transform="translate(126.40,992.20) scale(1,1.045)" font-family="'Liberation Serif', serif" font-weight="bold" font-size="32" text-anchor="middle">0</text>
<text transform="translate(304.20,992.20) scale(1,1.045)" font-family="'Liberation Serif', serif" font-weight="bold" font-size="32" text-anchor="middle">10<tspan dx="2.7" dy="-10.1" font-size="20">-10</tspan></text>
<text transform="translate(481.50,992.20) scale(1,1.045)" font-family="'Liberation Serif', serif" font-weight="bold" font-size="32" text-anchor="middle">10<tspan dx="2.7" dy="-10.1" font-size="20">-9</tspan></text>
<text transform="translate(658.90,992.20) scale(1,1.045)" font-family="'Liberation Serif', serif" font-weight="bold" font-size="32" text-anchor="middle">10<tspan dx="2.7" dy="-10.1" font-size="20">-8</tspan></text>
<text transform="translate(200.00,1033.60) scale(1,1.045)" font-family="'Liberation Serif', serif" font-weight="bold" font-size="35">LPS Concentration (g/ml)</text>
<line x1="148.60" y1="608.70" x2="168.00" y2="608.70" stroke="#000" stroke-width="2.4"/>
<circle cx="158.30" cy="608.70" r="7.1" fill="#000"/>
<text transform="translate(177.90,619.00) scale(1,1.045)" font-family="'Liberation Serif', serif" font-size="32">0 h</text>
<line x1="148.60" y1="638.70" x2="168.00" y2="638.70" stroke="#000" stroke-width="2.4"/>
<rect x="151.30" y="631.70" width="14.00" height="14.00" fill="none" stroke="#000" stroke-width="2.6"/>
<text transform="translate(177.90,649.00) scale(1,1.045)" font-family="'Liberation Serif', serif" font-size="32">1 h</text>
<line x1="148.60" y1="666.90" x2="168.00" y2="666.90" stroke="#000" stroke-width="2.4"/>
<path d="M158.30,660.10 L165.10,666.90 L158.30,673.70 L151.50,666.90 Z" fill="#000"/>
<text transform="translate(177.90,677.20) scale(1,1.045)" font-family="'Liberation Serif', serif" font-size="32">2 h</text>
<line x1="148.60" y1="695.40" x2="168.00" y2="695.40" stroke="#000" stroke-width="2.4"/>
<path d="M158.30,689.40 L164.50,702.50 L152.10,702.50 Z" fill="none" stroke="#000" stroke-width="2.5" stroke-linejoin="miter" stroke-miterlimit="10"/>
<text transform="translate(177.90,705.70) scale(1,1.045)" font-family="'Liberation Serif', serif" font-size="32">4 h</text>
<line x1="148.60" y1="724.80" x2="168.00" y2="724.80" stroke="#000" stroke-width="2.4"/>
<path d="M150.90,724.80 L154.60,718.39 L162.00,718.39 L165.70,724.80 L162.00,731.21 L154.60,731.21 Z" fill="#000"/>
<text transform="translate(177.90,735.10) scale(1,1.045)" font-family="'Liberation Serif', serif" font-size="32">6 h</text>
<polyline points="126.40,921.61 304.20,922.81 481.50,922.81 658.90,923.03" fill="none" stroke="#000" stroke-width="2.8" stroke-linejoin="round"/>
<polyline points="126.40,914.21 304.20,904.42 481.50,913.50 658.90,918.82" fill="none" stroke="#000" stroke-width="2.8" stroke-linejoin="round"/>
<polyline points="126.40,922.50 304.20,915.01 481.50,908.41 658.90,850.89" fill="none" stroke="#000" stroke-width="2.8" stroke-linejoin="round"/>
<polyline points="126.40,938.50 304.20,925.51 481.50,772.01 658.90,714.32" fill="none" stroke="#000" stroke-width="2.8" stroke-linejoin="round"/>
<polyline points="126.40,944.21 304.20,909.51 481.50,744.50 658.90,627.11" fill="none" stroke="#000" stroke-width="2.8" stroke-linejoin="round"/>
<line x1="658.90" y1="843.36" x2="658.90" y2="844.89" stroke="#000" stroke-width="2.5"/>
<line x1="658.90" y1="856.89" x2="658.90" y2="858.42" stroke="#000" stroke-width="2.5"/>
<line x1="651.90" y1="843.36" x2="665.90" y2="843.36" stroke="#000" stroke-width="2.6"/>
<line x1="651.90" y1="858.42" x2="665.90" y2="858.42" stroke="#000" stroke-width="2.6"/>
<line x1="658.90" y1="699.70" x2="658.90" y2="706.82" stroke="#000" stroke-width="2.5"/>
<line x1="658.90" y1="721.42" x2="658.90" y2="728.94" stroke="#000" stroke-width="2.5"/>
<line x1="651.90" y1="699.70" x2="665.90" y2="699.70" stroke="#000" stroke-width="2.6"/>
<line x1="651.90" y1="728.94" x2="665.90" y2="728.94" stroke="#000" stroke-width="2.6"/>
<line x1="304.20" y1="899.32" x2="304.20" y2="904.01" stroke="#000" stroke-width="2.5"/>
<line x1="304.20" y1="915.01" x2="304.20" y2="919.71" stroke="#000" stroke-width="2.5"/>
<line x1="297.20" y1="899.32" x2="311.20" y2="899.32" stroke="#000" stroke-width="2.6"/>
<line x1="297.20" y1="919.71" x2="311.20" y2="919.71" stroke="#000" stroke-width="2.6"/>
<line x1="481.50" y1="730.76" x2="481.50" y2="739.00" stroke="#000" stroke-width="2.5"/>
<line x1="481.50" y1="750.00" x2="481.50" y2="758.23" stroke="#000" stroke-width="2.5"/>
<line x1="474.50" y1="730.76" x2="488.50" y2="730.76" stroke="#000" stroke-width="2.6"/>
<line x1="474.50" y1="758.23" x2="488.50" y2="758.23" stroke="#000" stroke-width="2.6"/>
<line x1="658.90" y1="614.26" x2="658.90" y2="621.61" stroke="#000" stroke-width="2.5"/>
<line x1="658.90" y1="632.61" x2="658.90" y2="639.96" stroke="#000" stroke-width="2.5"/>
<line x1="651.90" y1="614.26" x2="665.90" y2="614.26" stroke="#000" stroke-width="2.6"/>
<line x1="651.90" y1="639.96" x2="665.90" y2="639.96" stroke="#000" stroke-width="2.6"/>
<path d="M119.00,944.21 L122.70,937.80 L130.10,937.80 L133.80,944.21 L130.10,950.62 L122.70,950.62 Z" fill="#000"/>
<path d="M296.80,909.51 L300.50,903.11 L307.90,903.11 L311.60,909.51 L307.90,915.92 L300.50,915.92 Z" fill="#000"/>
<path d="M474.10,744.50 L477.80,738.09 L485.20,738.09 L488.90,744.50 L485.20,750.90 L477.80,750.90 Z" fill="#000"/>
<path d="M651.50,627.11 L655.20,620.70 L662.60,620.70 L666.30,627.11 L662.60,633.52 L655.20,633.52 Z" fill="#000"/>
<path d="M126.40,932.50 L132.60,945.60 L120.20,945.60 Z" fill="none" stroke="#000" stroke-width="2.5" stroke-linejoin="miter" stroke-miterlimit="10"/>
<path d="M304.20,919.51 L310.40,932.61 L298.00,932.61 Z" fill="none" stroke="#000" stroke-width="2.5" stroke-linejoin="miter" stroke-miterlimit="10"/>
<path d="M481.50,766.01 L487.70,779.11 L475.30,779.11 Z" fill="none" stroke="#000" stroke-width="2.5" stroke-linejoin="miter" stroke-miterlimit="10"/>
<path d="M658.90,708.32 L665.10,721.42 L652.70,721.42 Z" fill="none" stroke="#000" stroke-width="2.5" stroke-linejoin="miter" stroke-miterlimit="10"/>
<path d="M126.40,915.70 L133.20,922.50 L126.40,929.30 L119.60,922.50 Z" fill="#000"/>
<path d="M304.20,908.21 L311.00,915.01 L304.20,921.81 L297.40,915.01 Z" fill="#000"/>
<path d="M481.50,901.61 L488.30,908.41 L481.50,915.21 L474.70,908.41 Z" fill="#000"/>
<path d="M658.90,844.09 L665.70,850.89 L658.90,857.69 L652.10,850.89 Z" fill="#000"/>
<circle cx="126.40" cy="921.61" r="7.1" fill="#000"/>
<circle cx="304.20" cy="922.81" r="7.1" fill="#000"/>
<circle cx="481.50" cy="922.81" r="7.1" fill="#000"/>
<circle cx="658.90" cy="923.03" r="7.1" fill="#000"/>
<rect x="119.40" y="907.21" width="14.00" height="14.00" fill="none" stroke="#000" stroke-width="2.6"/>
<rect x="297.20" y="897.42" width="14.00" height="14.00" fill="none" stroke="#000" stroke-width="2.6"/>
<rect x="474.50" y="906.50" width="14.00" height="14.00" fill="none" stroke="#000" stroke-width="2.6"/>
<rect x="651.90" y="911.82" width="14.00" height="14.00" fill="none" stroke="#000" stroke-width="2.6"/>
<g fill="#2a2a2a" transform="translate(464.43,720.95) scale(1.15,1) translate(-464.43,-720.95)"><ellipse cx="464.43" cy="718.90" rx="1.35" ry="0.85" transform="rotate(-90 464.43 718.90)"/><ellipse cx="466.37" cy="720.32" rx="1.35" ry="0.85" transform="rotate(-18 466.37 720.32)"/><ellipse cx="465.63" cy="722.61" rx="1.35" ry="0.85" transform="rotate(54 465.63 722.61)"/><ellipse cx="463.22" cy="722.61" rx="1.35" ry="0.85" transform="rotate(126 463.22 722.61)"/><ellipse cx="462.48" cy="720.32" rx="1.35" ry="0.85" transform="rotate(198 462.48 720.32)"/><circle cx="464.43" cy="720.95" r="0.9" fill="#666"/></g>
<g fill="#2a2a2a" transform="translate(474.88,720.95) scale(1.15,1) translate(-474.88,-720.95)"><ellipse cx="474.88" cy="718.90" rx="1.35" ry="0.85" transform="rotate(-90 474.88 718.90)"/><ellipse cx="476.82" cy="720.32" rx="1.35" ry="0.85" transform="rotate(-18 476.82 720.32)"/><ellipse cx="476.08" cy="722.61" rx="1.35" ry="0.85" transform="rotate(54 476.08 722.61)"/><ellipse cx="473.67" cy="722.61" rx="1.35" ry="0.85" transform="rotate(126 473.67 722.61)"/><ellipse cx="472.93" cy="720.32" rx="1.35" ry="0.85" transform="rotate(198 472.93 720.32)"/><circle cx="474.88" cy="720.95" r="0.9" fill="#666"/></g>
<g fill="#2a2a2a" transform="translate(485.33,720.95) scale(1.15,1) translate(-485.33,-720.95)"><ellipse cx="485.33" cy="718.90" rx="1.35" ry="0.85" transform="rotate(-90 485.33 718.90)"/><ellipse cx="487.27" cy="720.32" rx="1.35" ry="0.85" transform="rotate(-18 487.27 720.32)"/><ellipse cx="486.53" cy="722.61" rx="1.35" ry="0.85" transform="rotate(54 486.53 722.61)"/><ellipse cx="484.12" cy="722.61" rx="1.35" ry="0.85" transform="rotate(126 484.12 722.61)"/><ellipse cx="483.38" cy="720.32" rx="1.35" ry="0.85" transform="rotate(198 483.38 720.32)"/><circle cx="485.33" cy="720.95" r="0.9" fill="#666"/></g>
<g fill="#2a2a2a" transform="translate(495.78,720.95) scale(1.15,1) translate(-495.78,-720.95)"><ellipse cx="495.78" cy="718.90" rx="1.35" ry="0.85" transform="rotate(-90 495.78 718.90)"/><ellipse cx="497.72" cy="720.32" rx="1.35" ry="0.85" transform="rotate(-18 497.72 720.32)"/><ellipse cx="496.98" cy="722.61" rx="1.35" ry="0.85" transform="rotate(54 496.98 722.61)"/><ellipse cx="494.57" cy="722.61" rx="1.35" ry="0.85" transform="rotate(126 494.57 722.61)"/><ellipse cx="493.83" cy="720.32" rx="1.35" ry="0.85" transform="rotate(198 493.83 720.32)"/><circle cx="495.78" cy="720.95" r="0.9" fill="#666"/></g>
<g fill="#2a2a2a" transform="translate(642.08,606.60) scale(1.15,1) translate(-642.08,-606.60)"><ellipse cx="642.08" cy="604.55" rx="1.35" ry="0.85" transform="rotate(-90 642.08 604.55)"/><ellipse cx="644.02" cy="605.97" rx="1.35" ry="0.85" transform="rotate(-18 644.02 605.97)"/><ellipse cx="643.28" cy="608.26" rx="1.35" ry="0.85" transform="rotate(54 643.28 608.26)"/><ellipse cx="640.87" cy="608.26" rx="1.35" ry="0.85" transform="rotate(126 640.87 608.26)"/><ellipse cx="640.13" cy="605.97" rx="1.35" ry="0.85" transform="rotate(198 640.13 605.97)"/><circle cx="642.08" cy="606.60" r="0.9" fill="#666"/></g>
<g fill="#2a2a2a" transform="translate(652.52,606.60) scale(1.15,1) translate(-652.52,-606.60)"><ellipse cx="652.52" cy="604.55" rx="1.35" ry="0.85" transform="rotate(-90 652.52 604.55)"/><ellipse cx="654.47" cy="605.97" rx="1.35" ry="0.85" transform="rotate(-18 654.47 605.97)"/><ellipse cx="653.73" cy="608.26" rx="1.35" ry="0.85" transform="rotate(54 653.73 608.26)"/><ellipse cx="651.32" cy="608.26" rx="1.35" ry="0.85" transform="rotate(126 651.32 608.26)"/><ellipse cx="650.58" cy="605.97" rx="1.35" ry="0.85" transform="rotate(198 650.58 605.97)"/><circle cx="652.52" cy="606.60" r="0.9" fill="#666"/></g>
<g fill="#2a2a2a" transform="translate(662.98,606.60) scale(1.15,1) translate(-662.98,-606.60)"><ellipse cx="662.98" cy="604.55" rx="1.35" ry="0.85" transform="rotate(-90 662.98 604.55)"/><ellipse cx="664.92" cy="605.97" rx="1.35" ry="0.85" transform="rotate(-18 664.92 605.97)"/><ellipse cx="664.18" cy="608.26" rx="1.35" ry="0.85" transform="rotate(54 664.18 608.26)"/><ellipse cx="661.77" cy="608.26" rx="1.35" ry="0.85" transform="rotate(126 661.77 608.26)"/><ellipse cx="661.03" cy="605.97" rx="1.35" ry="0.85" transform="rotate(198 661.03 605.97)"/><circle cx="662.98" cy="606.60" r="0.9" fill="#666"/></g>
<g fill="#2a2a2a" transform="translate(673.42,606.60) scale(1.15,1) translate(-673.42,-606.60)"><ellipse cx="673.42" cy="604.55" rx="1.35" ry="0.85" transform="rotate(-90 673.42 604.55)"/><ellipse cx="675.37" cy="605.97" rx="1.35" ry="0.85" transform="rotate(-18 675.37 605.97)"/><ellipse cx="674.63" cy="608.26" rx="1.35" ry="0.85" transform="rotate(54 674.63 608.26)"/><ellipse cx="672.22" cy="608.26" rx="1.35" ry="0.85" transform="rotate(126 672.22 608.26)"/><ellipse cx="671.48" cy="605.97" rx="1.35" ry="0.85" transform="rotate(198 671.48 605.97)"/><circle cx="673.42" cy="606.60" r="0.9" fill="#666"/></g>
<g fill="#2a2a2a" transform="translate(466.02,789.20) scale(1.15,1) translate(-466.02,-789.20)"><ellipse cx="466.02" cy="787.15" rx="1.35" ry="0.85" transform="rotate(-90 466.02 787.15)"/><ellipse cx="467.97" cy="788.57" rx="1.35" ry="0.85" transform="rotate(-18 467.97 788.57)"/><ellipse cx="467.23" cy="790.86" rx="1.35" ry="0.85" transform="rotate(54 467.23 790.86)"/><ellipse cx="464.82" cy="790.86" rx="1.35" ry="0.85" transform="rotate(126 464.82 790.86)"/><ellipse cx="464.08" cy="788.57" rx="1.35" ry="0.85" transform="rotate(198 464.08 788.57)"/><circle cx="466.02" cy="789.20" r="0.9" fill="#666"/></g>
<g fill="#2a2a2a" transform="translate(476.47,789.20) scale(1.15,1) translate(-476.47,-789.20)"><ellipse cx="476.47" cy="787.15" rx="1.35" ry="0.85" transform="rotate(-90 476.47 787.15)"/><ellipse cx="478.42" cy="788.57" rx="1.35" ry="0.85" transform="rotate(-18 478.42 788.57)"/><ellipse cx="477.68" cy="790.86" rx="1.35" ry="0.85" transform="rotate(54 477.68 790.86)"/><ellipse cx="475.27" cy="790.86" rx="1.35" ry="0.85" transform="rotate(126 475.27 790.86)"/><ellipse cx="474.53" cy="788.57" rx="1.35" ry="0.85" transform="rotate(198 474.53 788.57)"/><circle cx="476.47" cy="789.20" r="0.9" fill="#666"/></g>
<g fill="#2a2a2a" transform="translate(486.93,789.20) scale(1.15,1) translate(-486.93,-789.20)"><ellipse cx="486.93" cy="787.15" rx="1.35" ry="0.85" transform="rotate(-90 486.93 787.15)"/><ellipse cx="488.87" cy="788.57" rx="1.35" ry="0.85" transform="rotate(-18 488.87 788.57)"/><ellipse cx="488.13" cy="790.86" rx="1.35" ry="0.85" transform="rotate(54 488.13 790.86)"/><ellipse cx="485.72" cy="790.86" rx="1.35" ry="0.85" transform="rotate(126 485.72 790.86)"/><ellipse cx="484.98" cy="788.57" rx="1.35" ry="0.85" transform="rotate(198 484.98 788.57)"/><circle cx="486.93" cy="789.20" r="0.9" fill="#666"/></g>
<g fill="#2a2a2a" transform="translate(497.38,789.20) scale(1.15,1) translate(-497.38,-789.20)"><ellipse cx="497.38" cy="787.15" rx="1.35" ry="0.85" transform="rotate(-90 497.38 787.15)"/><ellipse cx="499.32" cy="788.57" rx="1.35" ry="0.85" transform="rotate(-18 499.32 788.57)"/><ellipse cx="498.58" cy="790.86" rx="1.35" ry="0.85" transform="rotate(54 498.58 790.86)"/><ellipse cx="496.17" cy="790.86" rx="1.35" ry="0.85" transform="rotate(126 496.17 790.86)"/><ellipse cx="495.43" cy="788.57" rx="1.35" ry="0.85" transform="rotate(198 495.43 788.57)"/><circle cx="497.38" cy="789.20" r="0.9" fill="#666"/></g>
<g fill="#2a2a2a" transform="translate(642.08,691.30) scale(1.15,1) translate(-642.08,-691.30)"><ellipse cx="642.08" cy="689.25" rx="1.35" ry="0.85" transform="rotate(-90 642.08 689.25)"/><ellipse cx="644.02" cy="690.67" rx="1.35" ry="0.85" transform="rotate(-18 644.02 690.67)"/><ellipse cx="643.28" cy="692.96" rx="1.35" ry="0.85" transform="rotate(54 643.28 692.96)"/><ellipse cx="640.87" cy="692.96" rx="1.35" ry="0.85" transform="rotate(126 640.87 692.96)"/><ellipse cx="640.13" cy="690.67" rx="1.35" ry="0.85" transform="rotate(198 640.13 690.67)"/><circle cx="642.08" cy="691.30" r="0.9" fill="#666"/></g>
<g fill="#2a2a2a" transform="translate(652.52,691.30) scale(1.15,1) translate(-652.52,-691.30)"><ellipse cx="652.52" cy="689.25" rx="1.35" ry="0.85" transform="rotate(-90 652.52 689.25)"/><ellipse cx="654.47" cy="690.67" rx="1.35" ry="0.85" transform="rotate(-18 654.47 690.67)"/><ellipse cx="653.73" cy="692.96" rx="1.35" ry="0.85" transform="rotate(54 653.73 692.96)"/><ellipse cx="651.32" cy="692.96" rx="1.35" ry="0.85" transform="rotate(126 651.32 692.96)"/><ellipse cx="650.58" cy="690.67" rx="1.35" ry="0.85" transform="rotate(198 650.58 690.67)"/><circle cx="652.52" cy="691.30" r="0.9" fill="#666"/></g>
<g fill="#2a2a2a" transform="translate(662.98,691.30) scale(1.15,1) translate(-662.98,-691.30)"><ellipse cx="662.98" cy="689.25" rx="1.35" ry="0.85" transform="rotate(-90 662.98 689.25)"/><ellipse cx="664.92" cy="690.67" rx="1.35" ry="0.85" transform="rotate(-18 664.92 690.67)"/><ellipse cx="664.18" cy="692.96" rx="1.35" ry="0.85" transform="rotate(54 664.18 692.96)"/><ellipse cx="661.77" cy="692.96" rx="1.35" ry="0.85" transform="rotate(126 661.77 692.96)"/><ellipse cx="661.03" cy="690.67" rx="1.35" ry="0.85" transform="rotate(198 661.03 690.67)"/><circle cx="662.98" cy="691.30" r="0.9" fill="#666"/></g>
<g fill="#2a2a2a" transform="translate(673.42,691.30) scale(1.15,1) translate(-673.42,-691.30)"><ellipse cx="673.42" cy="689.25" rx="1.35" ry="0.85" transform="rotate(-90 673.42 689.25)"/><ellipse cx="675.37" cy="690.67" rx="1.35" ry="0.85" transform="rotate(-18 675.37 690.67)"/><ellipse cx="674.63" cy="692.96" rx="1.35" ry="0.85" transform="rotate(54 674.63 692.96)"/><ellipse cx="672.22" cy="692.96" rx="1.35" ry="0.85" transform="rotate(126 672.22 692.96)"/><ellipse cx="671.48" cy="690.67" rx="1.35" ry="0.85" transform="rotate(198 671.48 690.67)"/><circle cx="673.42" cy="691.30" r="0.9" fill="#666"/></g>
<g fill="#2a2a2a" transform="translate(642.08,834.40) scale(1.15,1) translate(-642.08,-834.40)"><ellipse cx="642.08" cy="832.35" rx="1.35" ry="0.85" transform="rotate(-90 642.08 832.35)"/><ellipse cx="644.02" cy="833.77" rx="1.35" ry="0.85" transform="rotate(-18 644.02 833.77)"/><ellipse cx="643.28" cy="836.06" rx="1.35" ry="0.85" transform="rotate(54 643.28 836.06)"/><ellipse cx="640.87" cy="836.06" rx="1.35" ry="0.85" transform="rotate(126 640.87 836.06)"/><ellipse cx="640.13" cy="833.77" rx="1.35" ry="0.85" transform="rotate(198 640.13 833.77)"/><circle cx="642.08" cy="834.40" r="0.9" fill="#666"/></g>
<g fill="#2a2a2a" transform="translate(652.52,834.40) scale(1.15,1) translate(-652.52,-834.40)"><ellipse cx="652.52" cy="832.35" rx="1.35" ry="0.85" transform="rotate(-90 652.52 832.35)"/><ellipse cx="654.47" cy="833.77" rx="1.35" ry="0.85" transform="rotate(-18 654.47 833.77)"/><ellipse cx="653.73" cy="836.06" rx="1.35" ry="0.85" transform="rotate(54 653.73 836.06)"/><ellipse cx="651.32" cy="836.06" rx="1.35" ry="0.85" transform="rotate(126 651.32 836.06)"/><ellipse cx="650.58" cy="833.77" rx="1.35" ry="0.85" transform="rotate(198 650.58 833.77)"/><circle cx="652.52" cy="834.40" r="0.9" fill="#666"/></g>
<g fill="#2a2a2a" transform="translate(662.98,834.40) scale(1.15,1) translate(-662.98,-834.40)"><ellipse cx="662.98" cy="832.35" rx="1.35" ry="0.85" transform="rotate(-90 662.98 832.35)"/><ellipse cx="664.92" cy="833.77" rx="1.35" ry="0.85" transform="rotate(-18 664.92 833.77)"/><ellipse cx="664.18" cy="836.06" rx="1.35" ry="0.85" transform="rotate(54 664.18 836.06)"/><ellipse cx="661.77" cy="836.06" rx="1.35" ry="0.85" transform="rotate(126 661.77 836.06)"/><ellipse cx="661.03" cy="833.77" rx="1.35" ry="0.85" transform="rotate(198 661.03 833.77)"/><circle cx="662.98" cy="834.40" r="0.9" fill="#666"/></g>
<g fill="#2a2a2a" transform="translate(673.42,834.40) scale(1.15,1) translate(-673.42,-834.40)"><ellipse cx="673.42" cy="832.35" rx="1.35" ry="0.85" transform="rotate(-90 673.42 832.35)"/><ellipse cx="675.37" cy="833.77" rx="1.35" ry="0.85" transform="rotate(-18 675.37 833.77)"/><ellipse cx="674.63" cy="836.06" rx="1.35" ry="0.85" transform="rotate(54 674.63 836.06)"/><ellipse cx="672.22" cy="836.06" rx="1.35" ry="0.85" transform="rotate(126 672.22 836.06)"/><ellipse cx="671.48" cy="833.77" rx="1.35" ry="0.85" transform="rotate(198 671.48 833.77)"/><circle cx="673.42" cy="834.40" r="0.9" fill="#666"/></g>
<text transform="translate(392.30,1093.70) scale(1,1.045)" font-family="'Liberation Serif', serif" font-weight="bold" font-size="36" text-anchor="middle">CCL12</text>
<text transform="translate(25.40,1489.90) rotate(-90) scale(1,1.02)" font-family="'Liberation Serif', serif" font-weight="bold" font-size="35.2">Copies/<tspan font-weight="normal">β</tspan><tspan font-weight="normal" font-size="26" dy="7.4">2</tspan><tspan dy="-7.4"> Microglobulin</tspan></text>
<line x1="127.4" y1="1138.25" x2="127.4" y2="1496.05" stroke="#000" stroke-width="2.9"/>
<line x1="121.90" y1="1494.6" x2="660.55" y2="1494.6" stroke="#000" stroke-width="2.9"/>
<line x1="121.90" y1="1139.70" x2="127.4" y2="1139.70" stroke="#000" stroke-width="2.9"/>
<text transform="translate(119.30,1150.50) scale(1,1.045)" font-family="'Liberation Serif', serif" font-weight="bold" font-size="32" text-anchor="end">0.012</text>
<line x1="121.90" y1="1228.42" x2="127.4" y2="1228.42" stroke="#000" stroke-width="2.9"/>
<text transform="translate(119.30,1239.22) scale(1,1.045)" font-family="'Liberation Serif', serif" font-weight="bold" font-size="32" text-anchor="end">0.009</text>
<line x1="121.90" y1="1317.15" x2="127.4" y2="1317.15" stroke="#000" stroke-width="2.9"/>
<text transform="translate(119.30,1327.95) scale(1,1.045)" font-family="'Liberation Serif', serif" font-weight="bold" font-size="32" text-anchor="end">0.006</text>
<line x1="121.90" y1="1405.88" x2="127.4" y2="1405.88" stroke="#000" stroke-width="2.9"/>
<text transform="translate(119.30,1416.67) scale(1,1.045)" font-family="'Liberation Serif', serif" font-weight="bold" font-size="32" text-anchor="end">0.003</text>
<line x1="121.90" y1="1494.60" x2="127.4" y2="1494.60" stroke="#000" stroke-width="2.9"/>
<text transform="translate(119.30,1505.40) scale(1,1.045)" font-family="'Liberation Serif', serif" font-weight="bold" font-size="32" text-anchor="end">0.000</text>
<line x1="180.75" y1="1494.6" x2="180.75" y2="1497.80" stroke="#000" stroke-width="2.9"/>
<line x1="211.96" y1="1494.6" x2="211.96" y2="1497.80" stroke="#000" stroke-width="2.9"/>
<line x1="234.11" y1="1494.6" x2="234.11" y2="1497.80" stroke="#000" stroke-width="2.9"/>
<line x1="251.28" y1="1494.6" x2="251.28" y2="1497.80" stroke="#000" stroke-width="2.9"/>
<line x1="265.31" y1="1494.6" x2="265.31" y2="1497.80" stroke="#000" stroke-width="2.9"/>
<line x1="277.18" y1="1494.6" x2="277.18" y2="1497.80" stroke="#000" stroke-width="2.9"/>
<line x1="287.46" y1="1494.6" x2="287.46" y2="1497.80" stroke="#000" stroke-width="2.9"/>
<line x1="296.52" y1="1494.6" x2="296.52" y2="1497.80" stroke="#000" stroke-width="2.9"/>
<line x1="357.99" y1="1494.6" x2="357.99" y2="1497.80" stroke="#000" stroke-width="2.9"/>
<line x1="389.20" y1="1494.6" x2="389.20" y2="1497.80" stroke="#000" stroke-width="2.9"/>
<line x1="411.34" y1="1494.6" x2="411.34" y2="1497.80" stroke="#000" stroke-width="2.9"/>
<line x1="428.51" y1="1494.6" x2="428.51" y2="1497.80" stroke="#000" stroke-width="2.9"/>
<line x1="442.55" y1="1494.6" x2="442.55" y2="1497.80" stroke="#000" stroke-width="2.9"/>
<line x1="454.41" y1="1494.6" x2="454.41" y2="1497.80" stroke="#000" stroke-width="2.9"/>
<line x1="464.69" y1="1494.6" x2="464.69" y2="1497.80" stroke="#000" stroke-width="2.9"/>
<line x1="473.76" y1="1494.6" x2="473.76" y2="1497.80" stroke="#000" stroke-width="2.9"/>
<line x1="535.22" y1="1494.6" x2="535.22" y2="1497.80" stroke="#000" stroke-width="2.9"/>
<line x1="566.43" y1="1494.6" x2="566.43" y2="1497.80" stroke="#000" stroke-width="2.9"/>
<line x1="588.57" y1="1494.6" x2="588.57" y2="1497.80" stroke="#000" stroke-width="2.9"/>
<line x1="605.75" y1="1494.6" x2="605.75" y2="1497.80" stroke="#000" stroke-width="2.9"/>
<line x1="619.78" y1="1494.6" x2="619.78" y2="1497.80" stroke="#000" stroke-width="2.9"/>
<line x1="631.65" y1="1494.6" x2="631.65" y2="1497.80" stroke="#000" stroke-width="2.9"/>
<line x1="641.92" y1="1494.6" x2="641.92" y2="1497.80" stroke="#000" stroke-width="2.9"/>
<line x1="650.99" y1="1494.6" x2="650.99" y2="1497.80" stroke="#000" stroke-width="2.9"/>
<line x1="127.40" y1="1494.6" x2="127.40" y2="1499.60" stroke="#000" stroke-width="2.9"/>
<line x1="304.50" y1="1494.6" x2="304.50" y2="1499.60" stroke="#000" stroke-width="2.9"/>
<line x1="481.50" y1="1494.6" x2="481.50" y2="1499.60" stroke="#000" stroke-width="2.9"/>
<line x1="659.10" y1="1494.6" x2="659.10" y2="1499.60" stroke="#000" stroke-width="2.9"/>
<text transform="translate(127.40,1531.20) scale(1,1.045)" font-family="'Liberation Serif', serif" font-weight="bold" font-size="32" text-anchor="middle">0</text>
<text transform="translate(304.50,1531.20) scale(1,1.045)" font-family="'Liberation Serif', serif" font-weight="bold" font-size="32" text-anchor="middle">10<tspan dx="2.7" dy="-10.1" font-size="20">-10</tspan></text>
<text transform="translate(481.50,1531.20) scale(1,1.045)" font-family="'Liberation Serif', serif" font-weight="bold" font-size="32" text-anchor="middle">10<tspan dx="2.7" dy="-10.1" font-size="20">-9</tspan></text>
<text transform="translate(659.10,1531.20) scale(1,1.045)" font-family="'Liberation Serif', serif" font-weight="bold" font-size="32" text-anchor="middle">10<tspan dx="2.7" dy="-10.1" font-size="20">-8</tspan></text>
<text transform="translate(200.50,1572.60) scale(1,1.045)" font-family="'Liberation Serif', serif" font-weight="bold" font-size="35">LPS Concentration (g/ml)</text>
<line x1="148.70" y1="1147.40" x2="168.10" y2="1147.40" stroke="#000" stroke-width="2.4"/>
<circle cx="158.40" cy="1147.40" r="7.1" fill="#000"/>
<text transform="translate(178.00,1157.70) scale(1,1.045)" font-family="'Liberation Serif', serif" font-size="32">0 h</text>
<line x1="148.70" y1="1179.30" x2="168.10" y2="1179.30" stroke="#000" stroke-width="2.4"/>
<rect x="151.40" y="1172.30" width="14.00" height="14.00" fill="none" stroke="#000" stroke-width="2.6"/>
<text transform="translate(178.00,1189.60) scale(1,1.045)" font-family="'Liberation Serif', serif" font-size="32">1 h</text>
<line x1="148.70" y1="1208.50" x2="168.10" y2="1208.50" stroke="#000" stroke-width="2.4"/>
<path d="M158.40,1201.70 L165.20,1208.50 L158.40,1215.30 L151.60,1208.50 Z" fill="#000"/>
<text transform="translate(178.00,1218.80) scale(1,1.045)" font-family="'Liberation Serif', serif" font-size="32">2 h</text>
<line x1="148.70" y1="1237.70" x2="168.10" y2="1237.70" stroke="#000" stroke-width="2.4"/>
<path d="M158.40,1231.70 L164.60,1244.80 L152.20,1244.80 Z" fill="none" stroke="#000" stroke-width="2.5" stroke-linejoin="miter" stroke-miterlimit="10"/>
<text transform="translate(178.00,1248.00) scale(1,1.045)" font-family="'Liberation Serif', serif" font-size="32">4 h</text>
<line x1="148.70" y1="1267.90" x2="168.10" y2="1267.90" stroke="#000" stroke-width="2.4"/>
<path d="M151.00,1267.90 L154.70,1261.49 L162.10,1261.49 L165.80,1267.90 L162.10,1274.31 L154.70,1274.31 Z" fill="#000"/>
<text transform="translate(178.00,1278.20) scale(1,1.045)" font-family="'Liberation Serif', serif" font-size="32">6 h</text>
<polyline points="127.40,1368.91 304.50,1368.91 481.50,1369.50 659.10,1368.91" fill="none" stroke="#000" stroke-width="2.8" stroke-linejoin="round"/>
<polyline points="127.40,1390.20 304.50,1386.06 481.50,1408.54 659.10,1349.68" fill="none" stroke="#000" stroke-width="2.8" stroke-linejoin="round"/>
<polyline points="127.40,1397.89 304.50,1402.92 481.50,1368.02 659.10,1311.83" fill="none" stroke="#000" stroke-width="2.8" stroke-linejoin="round"/>
<polyline points="127.40,1421.85 304.50,1407.06 481.50,1316.56 659.10,1255.93" fill="none" stroke="#000" stroke-width="2.8" stroke-linejoin="round"/>
<polyline points="127.40,1433.38 304.50,1399.96 481.50,1249.13 659.10,1159.22" fill="none" stroke="#000" stroke-width="2.8" stroke-linejoin="round"/>
<line x1="127.40" y1="1357.37" x2="127.40" y2="1362.91" stroke="#000" stroke-width="2.5"/>
<line x1="127.40" y1="1374.91" x2="127.40" y2="1380.44" stroke="#000" stroke-width="2.5"/>
<line x1="120.40" y1="1357.37" x2="134.40" y2="1357.37" stroke="#000" stroke-width="2.6"/>
<line x1="120.40" y1="1380.44" x2="134.40" y2="1380.44" stroke="#000" stroke-width="2.6"/>
<line x1="304.50" y1="1357.37" x2="304.50" y2="1362.91" stroke="#000" stroke-width="2.5"/>
<line x1="304.50" y1="1374.91" x2="304.50" y2="1380.44" stroke="#000" stroke-width="2.5"/>
<line x1="297.50" y1="1357.37" x2="311.50" y2="1357.37" stroke="#000" stroke-width="2.6"/>
<line x1="297.50" y1="1380.44" x2="311.50" y2="1380.44" stroke="#000" stroke-width="2.6"/>
<line x1="481.50" y1="1357.96" x2="481.50" y2="1363.50" stroke="#000" stroke-width="2.5"/>
<line x1="481.50" y1="1375.50" x2="481.50" y2="1381.03" stroke="#000" stroke-width="2.5"/>
<line x1="474.50" y1="1357.96" x2="488.50" y2="1357.96" stroke="#000" stroke-width="2.6"/>
<line x1="474.50" y1="1381.03" x2="488.50" y2="1381.03" stroke="#000" stroke-width="2.6"/>
<line x1="659.10" y1="1357.37" x2="659.10" y2="1362.91" stroke="#000" stroke-width="2.5"/>
<line x1="659.10" y1="1374.91" x2="659.10" y2="1380.44" stroke="#000" stroke-width="2.5"/>
<line x1="652.10" y1="1357.37" x2="666.10" y2="1357.37" stroke="#000" stroke-width="2.6"/>
<line x1="652.10" y1="1380.44" x2="666.10" y2="1380.44" stroke="#000" stroke-width="2.6"/>
<line x1="127.40" y1="1380.14" x2="127.40" y2="1383.20" stroke="#000" stroke-width="2.5"/>
<line x1="127.40" y1="1397.20" x2="127.40" y2="1400.26" stroke="#000" stroke-width="2.5"/>
<line x1="120.40" y1="1380.14" x2="134.40" y2="1380.14" stroke="#000" stroke-width="2.6"/>
<line x1="120.40" y1="1400.26" x2="134.40" y2="1400.26" stroke="#000" stroke-width="2.6"/>
<line x1="659.10" y1="1336.08" x2="659.10" y2="1342.68" stroke="#000" stroke-width="2.5"/>
<line x1="659.10" y1="1356.68" x2="659.10" y2="1363.29" stroke="#000" stroke-width="2.5"/>
<line x1="652.10" y1="1336.08" x2="666.10" y2="1336.08" stroke="#000" stroke-width="2.6"/>
<line x1="652.10" y1="1363.29" x2="666.10" y2="1363.29" stroke="#000" stroke-width="2.6"/>
<line x1="127.40" y1="1389.90" x2="127.40" y2="1391.89" stroke="#000" stroke-width="2.5"/>
<line x1="127.40" y1="1403.89" x2="127.40" y2="1405.88" stroke="#000" stroke-width="2.5"/>
<line x1="120.40" y1="1389.90" x2="134.40" y2="1389.90" stroke="#000" stroke-width="2.6"/>
<line x1="120.40" y1="1405.88" x2="134.40" y2="1405.88" stroke="#000" stroke-width="2.6"/>
<line x1="481.50" y1="1353.41" x2="481.50" y2="1362.02" stroke="#000" stroke-width="2.5"/>
<line x1="481.50" y1="1374.02" x2="481.50" y2="1382.63" stroke="#000" stroke-width="2.5"/>
<line x1="474.50" y1="1353.41" x2="488.50" y2="1353.41" stroke="#000" stroke-width="2.6"/>
<line x1="474.50" y1="1382.63" x2="488.50" y2="1382.63" stroke="#000" stroke-width="2.6"/>
<line x1="659.10" y1="1295.26" x2="659.10" y2="1305.83" stroke="#000" stroke-width="2.5"/>
<line x1="659.10" y1="1317.83" x2="659.10" y2="1328.39" stroke="#000" stroke-width="2.5"/>
<line x1="652.10" y1="1295.26" x2="666.10" y2="1295.26" stroke="#000" stroke-width="2.6"/>
<line x1="652.10" y1="1328.39" x2="666.10" y2="1328.39" stroke="#000" stroke-width="2.6"/>
<line x1="659.10" y1="1233.75" x2="659.10" y2="1248.43" stroke="#000" stroke-width="2.5"/>
<line x1="659.10" y1="1263.03" x2="659.10" y2="1278.11" stroke="#000" stroke-width="2.5"/>
<line x1="652.10" y1="1233.75" x2="666.10" y2="1233.75" stroke="#000" stroke-width="2.6"/>
<line x1="652.10" y1="1278.11" x2="666.10" y2="1278.11" stroke="#000" stroke-width="2.6"/>
<line x1="481.50" y1="1222.81" x2="481.50" y2="1243.63" stroke="#000" stroke-width="2.5"/>
<line x1="481.50" y1="1254.63" x2="481.50" y2="1275.45" stroke="#000" stroke-width="2.5"/>
<line x1="474.50" y1="1222.81" x2="488.50" y2="1222.81" stroke="#000" stroke-width="2.6"/>
<line x1="474.50" y1="1275.45" x2="488.50" y2="1275.45" stroke="#000" stroke-width="2.6"/>
<line x1="659.10" y1="1143.25" x2="659.10" y2="1153.72" stroke="#000" stroke-width="2.5"/>
<line x1="659.10" y1="1164.72" x2="659.10" y2="1175.19" stroke="#000" stroke-width="2.5"/>
<line x1="652.10" y1="1143.25" x2="666.10" y2="1143.25" stroke="#000" stroke-width="2.6"/>
<line x1="652.10" y1="1175.19" x2="666.10" y2="1175.19" stroke="#000" stroke-width="2.6"/>
<path d="M120.00,1433.38 L123.70,1426.97 L131.10,1426.97 L134.80,1433.38 L131.10,1439.79 L123.70,1439.79 Z" fill="#000"/>
<path d="M297.10,1399.96 L300.80,1393.55 L308.20,1393.55 L311.90,1399.96 L308.20,1406.37 L300.80,1406.37 Z" fill="#000"/>
<path d="M474.10,1249.13 L477.80,1242.72 L485.20,1242.72 L488.90,1249.13 L485.20,1255.54 L477.80,1255.54 Z" fill="#000"/>
<path d="M651.70,1159.22 L655.40,1152.81 L662.80,1152.81 L666.50,1159.22 L662.80,1165.63 L655.40,1165.63 Z" fill="#000"/>
<path d="M127.40,1415.85 L133.60,1428.95 L121.20,1428.95 Z" fill="none" stroke="#000" stroke-width="2.5" stroke-linejoin="miter" stroke-miterlimit="10"/>
<path d="M304.50,1401.06 L310.70,1414.16 L298.30,1414.16 Z" fill="none" stroke="#000" stroke-width="2.5" stroke-linejoin="miter" stroke-miterlimit="10"/>
<path d="M481.50,1310.56 L487.70,1323.66 L475.30,1323.66 Z" fill="none" stroke="#000" stroke-width="2.5" stroke-linejoin="miter" stroke-miterlimit="10"/>
<path d="M659.10,1249.93 L665.30,1263.03 L652.90,1263.03 Z" fill="none" stroke="#000" stroke-width="2.5" stroke-linejoin="miter" stroke-miterlimit="10"/>
<path d="M127.40,1391.09 L134.20,1397.89 L127.40,1404.69 L120.60,1397.89 Z" fill="#000"/>
<path d="M304.50,1396.12 L311.30,1402.92 L304.50,1409.72 L297.70,1402.92 Z" fill="#000"/>
<path d="M481.50,1361.22 L488.30,1368.02 L481.50,1374.82 L474.70,1368.02 Z" fill="#000"/>
<path d="M659.10,1305.03 L665.90,1311.83 L659.10,1318.63 L652.30,1311.83 Z" fill="#000"/>
<rect x="120.40" y="1383.20" width="14.00" height="14.00" fill="none" stroke="#000" stroke-width="2.6"/>
<rect x="297.50" y="1379.06" width="14.00" height="14.00" fill="none" stroke="#000" stroke-width="2.6"/>
<rect x="474.50" y="1401.54" width="14.00" height="14.00" fill="none" stroke="#000" stroke-width="2.6"/>
<rect x="652.10" y="1342.68" width="14.00" height="14.00" fill="none" stroke="#000" stroke-width="2.6"/>
<circle cx="127.40" cy="1368.91" r="7.1" fill="#000"/>
<circle cx="304.50" cy="1368.91" r="7.1" fill="#000"/>
<circle cx="481.50" cy="1369.50" r="7.1" fill="#000"/>
<circle cx="659.10" cy="1368.91" r="7.1" fill="#000"/>
<g fill="#2a2a2a" transform="translate(465.32,1214.00) scale(1.15,1) translate(-465.32,-1214.00)"><ellipse cx="465.32" cy="1211.95" rx="1.35" ry="0.85" transform="rotate(-90 465.32 1211.95)"/><ellipse cx="467.27" cy="1213.37" rx="1.35" ry="0.85" transform="rotate(-18 467.27 1213.37)"/><ellipse cx="466.53" cy="1215.66" rx="1.35" ry="0.85" transform="rotate(54 466.53 1215.66)"/><ellipse cx="464.12" cy="1215.66" rx="1.35" ry="0.85" transform="rotate(126 464.12 1215.66)"/><ellipse cx="463.38" cy="1213.37" rx="1.35" ry="0.85" transform="rotate(198 463.38 1213.37)"/><circle cx="465.32" cy="1214.00" r="0.9" fill="#666"/></g>
<g fill="#2a2a2a" transform="translate(475.77,1214.00) scale(1.15,1) translate(-475.77,-1214.00)"><ellipse cx="475.77" cy="1211.95" rx="1.35" ry="0.85" transform="rotate(-90 475.77 1211.95)"/><ellipse cx="477.72" cy="1213.37" rx="1.35" ry="0.85" transform="rotate(-18 477.72 1213.37)"/><ellipse cx="476.98" cy="1215.66" rx="1.35" ry="0.85" transform="rotate(54 476.98 1215.66)"/><ellipse cx="474.57" cy="1215.66" rx="1.35" ry="0.85" transform="rotate(126 474.57 1215.66)"/><ellipse cx="473.83" cy="1213.37" rx="1.35" ry="0.85" transform="rotate(198 473.83 1213.37)"/><circle cx="475.77" cy="1214.00" r="0.9" fill="#666"/></g>
<g fill="#2a2a2a" transform="translate(486.23,1214.00) scale(1.15,1) translate(-486.23,-1214.00)"><ellipse cx="486.23" cy="1211.95" rx="1.35" ry="0.85" transform="rotate(-90 486.23 1211.95)"/><ellipse cx="488.17" cy="1213.37" rx="1.35" ry="0.85" transform="rotate(-18 488.17 1213.37)"/><ellipse cx="487.43" cy="1215.66" rx="1.35" ry="0.85" transform="rotate(54 487.43 1215.66)"/><ellipse cx="485.02" cy="1215.66" rx="1.35" ry="0.85" transform="rotate(126 485.02 1215.66)"/><ellipse cx="484.28" cy="1213.37" rx="1.35" ry="0.85" transform="rotate(198 484.28 1213.37)"/><circle cx="486.23" cy="1214.00" r="0.9" fill="#666"/></g>
<g fill="#2a2a2a" transform="translate(496.68,1214.00) scale(1.15,1) translate(-496.68,-1214.00)"><ellipse cx="496.68" cy="1211.95" rx="1.35" ry="0.85" transform="rotate(-90 496.68 1211.95)"/><ellipse cx="498.62" cy="1213.37" rx="1.35" ry="0.85" transform="rotate(-18 498.62 1213.37)"/><ellipse cx="497.88" cy="1215.66" rx="1.35" ry="0.85" transform="rotate(54 497.88 1215.66)"/><ellipse cx="495.47" cy="1215.66" rx="1.35" ry="0.85" transform="rotate(126 495.47 1215.66)"/><ellipse cx="494.73" cy="1213.37" rx="1.35" ry="0.85" transform="rotate(198 494.73 1213.37)"/><circle cx="496.68" cy="1214.00" r="0.9" fill="#666"/></g>
<g fill="#2a2a2a" transform="translate(642.33,1135.60) scale(1.15,1) translate(-642.33,-1135.60)"><ellipse cx="642.33" cy="1133.55" rx="1.35" ry="0.85" transform="rotate(-90 642.33 1133.55)"/><ellipse cx="644.27" cy="1134.97" rx="1.35" ry="0.85" transform="rotate(-18 644.27 1134.97)"/><ellipse cx="643.53" cy="1137.26" rx="1.35" ry="0.85" transform="rotate(54 643.53 1137.26)"/><ellipse cx="641.12" cy="1137.26" rx="1.35" ry="0.85" transform="rotate(126 641.12 1137.26)"/><ellipse cx="640.38" cy="1134.97" rx="1.35" ry="0.85" transform="rotate(198 640.38 1134.97)"/><circle cx="642.33" cy="1135.60" r="0.9" fill="#666"/></g>
<g fill="#2a2a2a" transform="translate(652.77,1135.60) scale(1.15,1) translate(-652.77,-1135.60)"><ellipse cx="652.77" cy="1133.55" rx="1.35" ry="0.85" transform="rotate(-90 652.77 1133.55)"/><ellipse cx="654.72" cy="1134.97" rx="1.35" ry="0.85" transform="rotate(-18 654.72 1134.97)"/><ellipse cx="653.98" cy="1137.26" rx="1.35" ry="0.85" transform="rotate(54 653.98 1137.26)"/><ellipse cx="651.57" cy="1137.26" rx="1.35" ry="0.85" transform="rotate(126 651.57 1137.26)"/><ellipse cx="650.83" cy="1134.97" rx="1.35" ry="0.85" transform="rotate(198 650.83 1134.97)"/><circle cx="652.77" cy="1135.60" r="0.9" fill="#666"/></g>
<g fill="#2a2a2a" transform="translate(663.23,1135.60) scale(1.15,1) translate(-663.23,-1135.60)"><ellipse cx="663.23" cy="1133.55" rx="1.35" ry="0.85" transform="rotate(-90 663.23 1133.55)"/><ellipse cx="665.17" cy="1134.97" rx="1.35" ry="0.85" transform="rotate(-18 665.17 1134.97)"/><ellipse cx="664.43" cy="1137.26" rx="1.35" ry="0.85" transform="rotate(54 664.43 1137.26)"/><ellipse cx="662.02" cy="1137.26" rx="1.35" ry="0.85" transform="rotate(126 662.02 1137.26)"/><ellipse cx="661.28" cy="1134.97" rx="1.35" ry="0.85" transform="rotate(198 661.28 1134.97)"/><circle cx="663.23" cy="1135.60" r="0.9" fill="#666"/></g>
<g fill="#2a2a2a" transform="translate(673.67,1135.60) scale(1.15,1) translate(-673.67,-1135.60)"><ellipse cx="673.67" cy="1133.55" rx="1.35" ry="0.85" transform="rotate(-90 673.67 1133.55)"/><ellipse cx="675.62" cy="1134.97" rx="1.35" ry="0.85" transform="rotate(-18 675.62 1134.97)"/><ellipse cx="674.88" cy="1137.26" rx="1.35" ry="0.85" transform="rotate(54 674.88 1137.26)"/><ellipse cx="672.47" cy="1137.26" rx="1.35" ry="0.85" transform="rotate(126 672.47 1137.26)"/><ellipse cx="671.73" cy="1134.97" rx="1.35" ry="0.85" transform="rotate(198 671.73 1134.97)"/><circle cx="673.67" cy="1135.60" r="0.9" fill="#666"/></g>
<g fill="#2a2a2a" transform="translate(481.50,1299.30) scale(1.15,1) translate(-481.50,-1299.30)"><ellipse cx="481.50" cy="1297.25" rx="1.35" ry="0.85" transform="rotate(-90 481.50 1297.25)"/><ellipse cx="483.45" cy="1298.67" rx="1.35" ry="0.85" transform="rotate(-18 483.45 1298.67)"/><ellipse cx="482.70" cy="1300.96" rx="1.35" ry="0.85" transform="rotate(54 482.70 1300.96)"/><ellipse cx="480.30" cy="1300.96" rx="1.35" ry="0.85" transform="rotate(126 480.30 1300.96)"/><ellipse cx="479.55" cy="1298.67" rx="1.35" ry="0.85" transform="rotate(198 479.55 1298.67)"/><circle cx="481.50" cy="1299.30" r="0.9" fill="#666"/></g>
<g fill="#2a2a2a" transform="translate(642.33,1225.60) scale(1.15,1) translate(-642.33,-1225.60)"><ellipse cx="642.33" cy="1223.55" rx="1.35" ry="0.85" transform="rotate(-90 642.33 1223.55)"/><ellipse cx="644.27" cy="1224.97" rx="1.35" ry="0.85" transform="rotate(-18 644.27 1224.97)"/><ellipse cx="643.53" cy="1227.26" rx="1.35" ry="0.85" transform="rotate(54 643.53 1227.26)"/><ellipse cx="641.12" cy="1227.26" rx="1.35" ry="0.85" transform="rotate(126 641.12 1227.26)"/><ellipse cx="640.38" cy="1224.97" rx="1.35" ry="0.85" transform="rotate(198 640.38 1224.97)"/><circle cx="642.33" cy="1225.60" r="0.9" fill="#666"/></g>
<g fill="#2a2a2a" transform="translate(652.77,1225.60) scale(1.15,1) translate(-652.77,-1225.60)"><ellipse cx="652.77" cy="1223.55" rx="1.35" ry="0.85" transform="rotate(-90 652.77 1223.55)"/><ellipse cx="654.72" cy="1224.97" rx="1.35" ry="0.85" transform="rotate(-18 654.72 1224.97)"/><ellipse cx="653.98" cy="1227.26" rx="1.35" ry="0.85" transform="rotate(54 653.98 1227.26)"/><ellipse cx="651.57" cy="1227.26" rx="1.35" ry="0.85" transform="rotate(126 651.57 1227.26)"/><ellipse cx="650.83" cy="1224.97" rx="1.35" ry="0.85" transform="rotate(198 650.83 1224.97)"/><circle cx="652.77" cy="1225.60" r="0.9" fill="#666"/></g>
<g fill="#2a2a2a" transform="translate(663.23,1225.60) scale(1.15,1) translate(-663.23,-1225.60)"><ellipse cx="663.23" cy="1223.55" rx="1.35" ry="0.85" transform="rotate(-90 663.23 1223.55)"/><ellipse cx="665.17" cy="1224.97" rx="1.35" ry="0.85" transform="rotate(-18 665.17 1224.97)"/><ellipse cx="664.43" cy="1227.26" rx="1.35" ry="0.85" transform="rotate(54 664.43 1227.26)"/><ellipse cx="662.02" cy="1227.26" rx="1.35" ry="0.85" transform="rotate(126 662.02 1227.26)"/><ellipse cx="661.28" cy="1224.97" rx="1.35" ry="0.85" transform="rotate(198 661.28 1224.97)"/><circle cx="663.23" cy="1225.60" r="0.9" fill="#666"/></g>
<g fill="#2a2a2a" transform="translate(673.67,1225.60) scale(1.15,1) translate(-673.67,-1225.60)"><ellipse cx="673.67" cy="1223.55" rx="1.35" ry="0.85" transform="rotate(-90 673.67 1223.55)"/><ellipse cx="675.62" cy="1224.97" rx="1.35" ry="0.85" transform="rotate(-18 675.62 1224.97)"/><ellipse cx="674.88" cy="1227.26" rx="1.35" ry="0.85" transform="rotate(54 674.88 1227.26)"/><ellipse cx="672.47" cy="1227.26" rx="1.35" ry="0.85" transform="rotate(126 672.47 1227.26)"/><ellipse cx="671.73" cy="1224.97" rx="1.35" ry="0.85" transform="rotate(198 671.73 1224.97)"/><circle cx="673.67" cy="1225.60" r="0.9" fill="#666"/></g>
<g fill="#2a2a2a" transform="translate(653.62,1288.60) scale(1.15,1) translate(-653.62,-1288.60)"><ellipse cx="653.62" cy="1286.55" rx="1.35" ry="0.85" transform="rotate(-90 653.62 1286.55)"/><ellipse cx="655.57" cy="1287.97" rx="1.35" ry="0.85" transform="rotate(-18 655.57 1287.97)"/><ellipse cx="654.83" cy="1290.26" rx="1.35" ry="0.85" transform="rotate(54 654.83 1290.26)"/><ellipse cx="652.42" cy="1290.26" rx="1.35" ry="0.85" transform="rotate(126 652.42 1290.26)"/><ellipse cx="651.68" cy="1287.97" rx="1.35" ry="0.85" transform="rotate(198 651.68 1287.97)"/><circle cx="653.62" cy="1288.60" r="0.9" fill="#666"/></g>
<g fill="#2a2a2a" transform="translate(664.08,1288.60) scale(1.15,1) translate(-664.08,-1288.60)"><ellipse cx="664.08" cy="1286.55" rx="1.35" ry="0.85" transform="rotate(-90 664.08 1286.55)"/><ellipse cx="666.02" cy="1287.97" rx="1.35" ry="0.85" transform="rotate(-18 666.02 1287.97)"/><ellipse cx="665.28" cy="1290.26" rx="1.35" ry="0.85" transform="rotate(54 665.28 1290.26)"/><ellipse cx="662.87" cy="1290.26" rx="1.35" ry="0.85" transform="rotate(126 662.87 1290.26)"/><ellipse cx="662.13" cy="1287.97" rx="1.35" ry="0.85" transform="rotate(198 662.13 1287.97)"/><circle cx="664.08" cy="1288.60" r="0.9" fill="#666"/></g>
</g>
</svg>
</body></html>
